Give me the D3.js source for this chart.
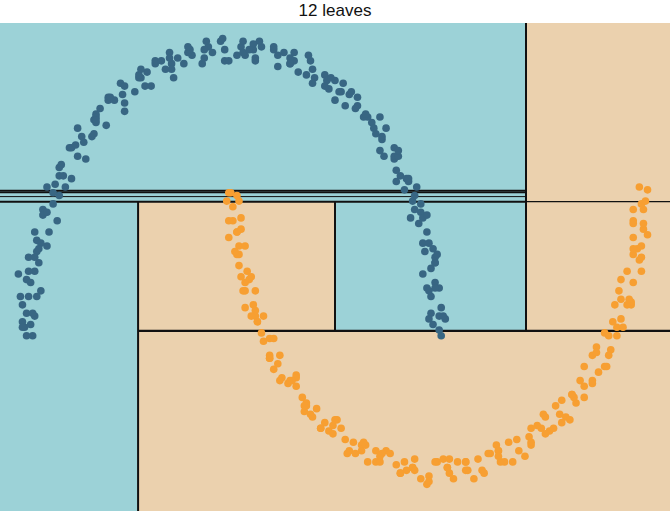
<!DOCTYPE html>
<html><head><meta charset="utf-8">
<script src="https://cdn.jsdelivr.net/npm/d3@7"></script>
<style>html,body{margin:0;padding:0;background:#fff;}svg{display:block;}</style>
</head><body>
<svg id="chart" width="670" height="511"></svg>
<script>
const title = "12 leaves";
const xDomain = [-1.14, 2.14];
const yDomain = [-0.645, 1.095];

// leaves: [x0, x1, y0, y1, class]
const leaves = [
  [-1.14, 1.435, 0.497, 1.095, 0],
  [-1.14, 1.435, 0.491, 0.497, 0],
  [-1.14, 1.435, 0.476, 0.491, 0],
  [-1.14, 1.435, 0.458, 0.476, 0],
  [1.435, 2.14, 0.458, 1.095, 1],
  [-1.14, -0.464, -0.645, 0.458, 0],
  [-0.464, 2.14, -0.645, -0.003, 1],
  [-0.464, 0.5, -0.003, 0.458, 1],
  [0.5, 1.435, -0.003, 0.458, 0],
  [1.435, 2.14, -0.003, 0.458, 1]
];
// splits: [orientation, value, from, to]
const splits = [
  ["h", 0.458, -1.14, 1.435],
  ["h", 0.458, 1.435, 2.14],
  ["v", 1.435, 0.458, 1.095],
  ["h", 0.497, -1.14, 1.435],
  ["h", 0.491, -1.14, 1.435],
  ["h", 0.476, -1.14, 1.435],
  ["v", -0.464, -0.645, 0.458],
  ["h", -0.003, -0.464, 2.14],
  ["v", 0.5, -0.003, 0.458],
  ["v", 1.435, -0.003, 0.458]
];

const blueX = [1.02,0.97,1.01,1.04,0.97,0.99,0.95,1.01,0.97,0.99,0.99,0.93,0.96,0.98,0.91,0.92,0.87,0.93,0.88,0.90,0.89,0.82,0.85,0.86,0.79,0.79,0.74,0.79,0.73,0.75,0.73,0.66,0.68,0.69,0.61,0.61,0.55,0.60,0.53,0.54,0.52,0.45,0.46,0.47,0.39,0.38,0.32,0.36,0.30,0.30,0.28,0.20,0.22,0.22,0.14,0.13,0.06,0.11,0.04,0.05,0.02,-0.06,-0.04,-0.04,-0.12,-0.13,-0.20,-0.15,-0.22,-0.21,-0.24,-0.31,-0.30,-0.29,-0.38,-0.38,-0.45,-0.40,-0.46,-0.46,-0.48,-0.55,-0.54,-0.53,-0.61,-0.61,-0.67,-0.62,-0.68,-0.67,-0.69,-0.76,-0.73,-0.72,-0.80,-0.79,-0.85,-0.79,-0.85,-0.83,-0.85,-0.91,-0.88,-0.86,-0.93,-0.92,-0.97,-0.91,-0.96,-0.94,-0.95,-1.00,-0.97,-0.94,-1.01,-0.99,-1.03,-0.97,-1.01,-0.98,-0.98,
  -1.01,-1.02,-1.04,-1.05,-0.99,1.01,1.02,0.96,0.93,0.95,0.84,0.70,0.57,0.40,0.25,0.10,-0.10,-0.27,-0.42,-0.58,-0.74,-0.88,-0.96,-1.03,0.05,-0.35,0.45,0.80,-0.65,
  0.98,1.03,0.99,0.96,0.99,1.00,0.94,0.95,0.89,0.92,0.86,0.80,0.81,0.81,0.72,0.72,0.64,0.65,0.58,0.50,0.50,0.48,0.39,0.37,0.28,0.28,0.20,0.11,0.10,0.08,-0.02,-0.05,-0.14,-0.14,-0.22,-0.30,-0.31,-0.33,-0.43,-0.45,-0.53,-0.53,-0.60,-0.67,-0.67,-0.68,-0.76,-0.77,-0.84,-0.82,-0.87,-0.93,-0.91,-0.90,-0.97,-0.95,-1.00,-0.96,-1.00,-1.03];
const blueY = [-0.02,0.06,0.05,0.04,0.12,0.17,0.15,0.15,0.22,0.26,0.24,0.31,0.31,0.29,0.38,0.42,0.40,0.40,0.46,0.51,0.48,0.55,0.54,0.53,0.61,0.65,0.62,0.62,0.68,0.72,0.69,0.76,0.74,0.72,0.80,0.83,0.80,0.79,0.85,0.88,0.85,0.91,0.89,0.86,0.93,0.96,0.92,0.91,0.96,0.99,0.95,1.00,0.98,0.94,1.01,1.03,0.98,0.97,1.01,1.03,0.98,1.03,1.00,0.96,1.01,1.03,0.98,0.95,0.99,1.00,0.95,0.99,0.95,0.90,0.95,0.96,0.90,0.87,0.90,0.91,0.85,0.88,0.84,0.78,0.83,0.82,0.77,0.73,0.75,0.76,0.69,0.72,0.67,0.61,0.65,0.65,0.58,0.54,0.55,0.55,0.48,0.51,0.45,0.39,0.43,0.42,0.35,0.30,0.32,0.31,0.24,0.26,0.21,0.14,0.18,0.17,0.09,0.05,0.06,0.06,-0.02,
  -0.02,0.01,0.12,0.20,0.02,0.00,0.08,0.04,0.20,0.35,0.50,0.70,0.84,0.90,0.99,1.00,0.99,0.97,0.92,0.82,0.69,0.49,0.28,0.03,0.99,0.96,0.87,0.57,0.79,
  0.02,0.05,0.15,0.14,0.24,0.27,0.28,0.41,0.43,0.45,0.54,0.53,0.62,0.64,0.64,0.76,0.76,0.77,0.85,0.82,0.89,0.90,0.88,0.98,0.97,0.95,1.01,0.96,1.02,1.00,0.96,1.04,1.00,0.97,1.01,0.93,0.97,0.93,0.87,0.93,0.87,0.81,0.83,0.74,0.75,0.70,0.62,0.66,0.59,0.51,0.52,0.41,0.42,0.35,0.26,0.29,0.21,0.12,0.12,0.01];

const orangeX = [-0.01,0.03,-0.02,0.00,0.04,-0.02,0.03,-0.02,0.03,0.06,0.02,0.07,0.03,0.06,0.11,0.05,0.11,0.06,0.12,0.15,0.12,0.18,0.14,0.18,0.23,0.18,0.24,0.20,0.27,0.31,0.28,0.34,0.31,0.35,0.41,0.36,0.43,0.39,0.47,0.51,0.49,0.55,0.53,0.57,0.63,0.59,0.66,0.63,0.70,0.75,0.73,0.80,0.77,0.82,0.88,0.84,0.92,0.88,0.96,1.00,0.99,1.06,1.03,1.08,1.15,1.10,1.18,1.14,1.22,1.26,1.25,1.31,1.29,1.33,1.40,1.35,1.43,1.39,1.46,1.51,1.49,1.55,1.52,1.57,1.63,1.58,1.65,1.61,1.68,1.72,1.70,1.76,1.72,1.76,1.82,1.76,1.83,1.78,1.85,1.88,1.86,1.91,1.87,1.90,1.95,1.89,1.95,1.90,1.96,1.99,1.96,2.00,1.96,1.98,2.03,1.96,2.01,1.96,2.01,2.03,1.99,
  0.00,0.02,0.08,0.10,0.22,0.38,0.60,0.85,1.05,1.20,1.45,1.66,1.84,1.93,2.00,0.70,1.30,0.95,0.45,1.60,
  0.02,-0.03,0.02,0.04,0.01,0.04,0.09,0.06,0.11,0.09,0.15,0.20,0.18,0.23,0.31,0.29,0.36,0.35,0.43,0.50,0.49,0.56,0.65,0.64,0.72,0.72,0.82,0.89,0.89,0.96,1.05,1.06,1.14,1.14,1.23,1.30,1.30,1.37,1.46,1.46,1.53,1.53,1.61,1.67,1.66,1.72,1.79,1.78,1.84,1.82,1.88,1.93,1.90,1.94,2.00,1.96,2.00,1.96,2.01,2.02];
const orangeY = [0.49,0.46,0.49,0.39,0.40,0.39,0.30,0.33,0.27,0.30,0.27,0.21,0.23,0.14,0.14,0.14,0.05,0.08,0.03,0.05,0.03,-0.03,-0.01,-0.10,-0.09,-0.09,-0.17,-0.14,-0.19,-0.16,-0.18,-0.24,-0.20,-0.29,-0.28,-0.27,-0.35,-0.31,-0.36,-0.32,-0.34,-0.39,-0.35,-0.43,-0.41,-0.40,-0.47,-0.43,-0.47,-0.43,-0.44,-0.48,-0.44,-0.51,-0.49,-0.47,-0.53,-0.49,-0.52,-0.47,-0.47,-0.51,-0.46,-0.53,-0.50,-0.47,-0.53,-0.47,-0.50,-0.44,-0.44,-0.47,-0.41,-0.47,-0.43,-0.40,-0.45,-0.39,-0.41,-0.35,-0.34,-0.36,-0.30,-0.35,-0.31,-0.27,-0.32,-0.25,-0.26,-0.20,-0.18,-0.19,-0.13,-0.18,-0.13,-0.09,-0.13,-0.06,-0.07,0.01,0.03,0.01,0.09,0.04,0.09,0.14,0.10,0.18,0.17,0.25,0.27,0.26,0.33,0.29,0.34,0.39,0.36,0.43,0.43,0.50,0.51,
  0.44,0.35,0.18,0.09,-0.12,-0.30,-0.44,-0.50,-0.49,-0.46,-0.38,-0.23,-0.02,0.21,0.45,-0.43,-0.43,-0.55,-0.33,-0.30,
  0.48,0.46,0.35,0.36,0.28,0.19,0.19,0.17,0.07,0.05,-0.04,-0.03,-0.10,-0.18,-0.17,-0.18,-0.26,-0.27,-0.35,-0.32,-0.37,-0.44,-0.41,-0.40,-0.47,-0.45,-0.51,-0.46,-0.50,-0.54,-0.49,-0.46,-0.50,-0.47,-0.51,-0.43,-0.45,-0.47,-0.40,-0.35,-0.37,-0.31,-0.33,-0.24,-0.23,-0.24,-0.15,-0.08,-0.09,-0.01,-0.02,0.09,0.11,0.11,0.21,0.29,0.30,0.38,0.38,0.46];

const W = 670, H = 511, plotTop = 23;
const svg = d3.select("#chart");
const x = d3.scaleLinear().domain(xDomain).range([0, W]);
const y = d3.scaleLinear().domain(yDomain).range([H, plotTop]);
const regionColor = ["#9cd2d7", "#ebd1ae"];
const pointColor = ["#386683", "#f79f32"];

svg.append("g").selectAll("rect").data(leaves).join("rect")
  .attr("x", d => x(d[0])).attr("y", d => y(d[3]))
  .attr("width", d => x(d[1]) - x(d[0])).attr("height", d => y(d[2]) - y(d[3]))
  .attr("fill", d => regionColor[d[4]]);

const lineWidths = [2, 1.2, 2, 2, 1.5, 1, 2, 2.2, 2, 2];
svg.append("g").selectAll("line").data(splits).join("line")
  .attr("x1", d => d[0] === "h" ? x(d[2]) : x(d[1]))
  .attr("x2", d => d[0] === "h" ? x(d[3]) : x(d[1]))
  .attr("y1", d => d[0] === "h" ? y(d[1]) : y(d[2]))
  .attr("y2", d => d[0] === "h" ? y(d[1]) : y(d[3]))
  .attr("stroke", "#111").attr("stroke-width", (d, i) => lineWidths[i]);

const pts = blueX.map((v, i) => ({x: v, y: blueY[i], c: 0}))
  .concat(orangeX.map((v, i) => ({x: v, y: orangeY[i], c: 1})));
svg.append("g").selectAll("circle").data(pts).join("circle")
  .attr("cx", d => x(d.x)).attr("cy", d => y(d.y)).attr("r", 3.8)
  .attr("fill", d => pointColor[d.c]);

svg.append("text").attr("x", W / 2).attr("y", 16).attr("text-anchor", "middle")
  .attr("font-family", "Liberation Sans, Arial, sans-serif").attr("font-size", 17)
  .attr("fill", "#111").text(title);
</script>
</body></html>
